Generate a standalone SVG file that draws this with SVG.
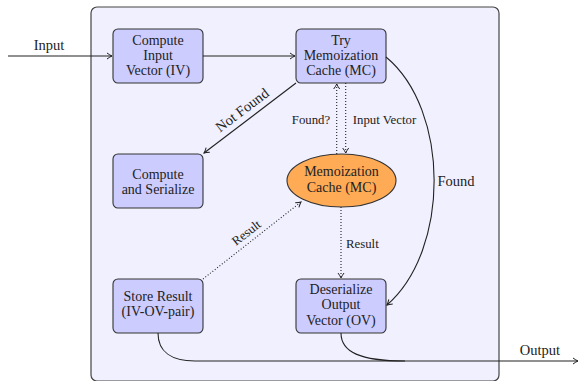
<svg xmlns="http://www.w3.org/2000/svg" width="581" height="381" viewBox="0 0 581 381">
<defs>
<marker id="arr" viewBox="-6 -4 7 8" refX="0" refY="0" markerWidth="7" markerHeight="8" markerUnits="userSpaceOnUse" orient="auto">
<path d="M-5,-3 Q-2,-0.8 0,0 Q-2,0.8 -5,3" fill="none" stroke="#222" stroke-width="1"/>
</marker>
</defs>
<style>
text{font-family:"Liberation Serif","Times New Roman",serif;fill:#222;text-anchor:middle}
.box{fill:#ccccff;stroke:#333;stroke-width:1.1}
.t{font-size:14px}
.l{font-size:14.5px}
.s{font-size:12.8px}
.e{fill:none;stroke:#222;stroke-width:1.1}
.d{fill:none;stroke:#222;stroke-width:1.1;stroke-dasharray:1 2}
</style>
<rect x="91" y="7" width="408" height="374" rx="6" fill="#f0f0ff" stroke="#444" stroke-width="1.2"/>
<g id="n1"><rect class="box" x="113" y="29" width="90" height="54" rx="5"/>
<text class="t" x="158" y="44.5">Compute</text><text class="t" x="158" y="59.5">Input</text><text class="t" x="158" y="74.5">Vector (IV)</text></g>
<g id="n2"><rect class="box" x="296" y="29" width="90" height="54" rx="5"/>
<text class="t" x="341" y="44.5">Try</text><text class="t" x="341" y="59.5">Memoization</text><text class="t" x="341" y="74.5">Cache (MC)</text></g>
<g id="n3"><rect class="box" x="113" y="154" width="90" height="54" rx="5"/>
<text class="t" x="158" y="178.5">Compute</text><text class="t" x="158" y="193.5">and Serialize</text></g>
<g id="n4"><rect class="box" x="113" y="279" width="90" height="54" rx="5"/>
<text class="t" x="158" y="301">Store Result</text><text class="t" x="158" y="316">(IV-OV-pair)</text></g>
<g id="n5"><rect class="box" x="296" y="279" width="90" height="54" rx="5"/>
<text class="t" x="341" y="293.5">Deserialize</text><text class="t" x="341" y="309">Output</text><text class="t" x="341" y="324.5">Vector (OV)</text></g>
<g id="mc"><ellipse cx="341.5" cy="180.5" rx="54.5" ry="26.5" fill="#ffaa55" stroke="#333" stroke-width="1.1"/>
<text class="t" x="341.5" y="176">Memoization</text><text class="t" x="341.5" y="191.5">Cache (MC)</text></g>
<g id="connectors">
<path class="e" d="M8,56 H112" marker-end="url(#arr)"/>
<text class="l" x="49" y="49.5">Input</text>
<path class="e" d="M203,56 H295" marker-end="url(#arr)"/>
<path class="e" d="M296,83 L204,153" marker-end="url(#arr)"/>
<text class="l" transform="translate(245,114) rotate(-37)">Not Found</text>
<path class="d" d="M336.7,154 V84" marker-end="url(#arr)"/>
<path class="d" d="M345.7,83 V153" marker-end="url(#arr)"/>
<text class="s" x="311" y="123.5">Found?</text>
<text class="s" x="384.5" y="123.5">Input Vector</text>
<path class="e" d="M386,57 C450,110 450,250 387,305" marker-end="url(#arr)"/>
<text class="l" x="456" y="186">Found</text>
<path class="d" d="M203,279 L301,202" marker-end="url(#arr)"/>
<text class="s" transform="translate(249,236) rotate(-38)">Result</text>
<path class="d" d="M341,207 V278" marker-end="url(#arr)"/>
<text class="s" x="346" y="247.5" style="text-anchor:start">Result</text>
<path class="e" d="M158,333 C158,352 172,361 195,361 H578" marker-end="url(#arr)"/>
<path class="e" d="M341,333 C341,352 360,361 405,361"/>
<text class="l" x="540" y="354.5">Output</text>
</g>
</svg>
